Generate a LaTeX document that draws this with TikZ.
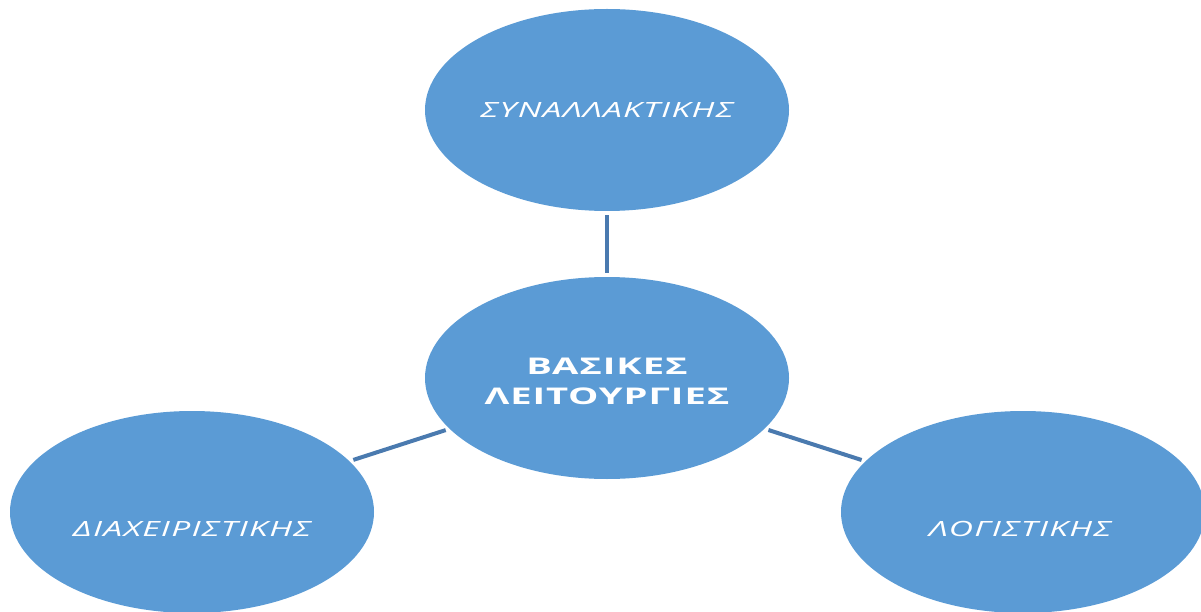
\documentclass[tikz,border=0pt]{standalone}
\usepackage{fontspec}
\setmainfont{Open Sans}
\usetikzlibrary{shapes.geometric}
\definecolor{ovalblue}{HTML}{5B9BD5}
\definecolor{linkblue}{HTML}{4A7AAF}
\tikzset{
  oval/.style={ellipse, fill=ovalblue, minimum width=364pt, minimum height=202pt, inner sep=0pt, text=white},
  side/.style={font=\fontsize{21}{25}\selectfont\itshape\addfontfeatures{FakeStretch=1.6,LetterSpace=6}},
  link/.style={draw=linkblue, line width=4pt, shorten <=4pt, shorten >=4pt}
}
\begin{document}
\begin{tikzpicture}[x=1pt,y=-1pt]
    \useasboundingbox (0,0) rectangle (1201,612);
    \node [oval] (vasikes) at (607,378) {};
    \node [oval, side] (synal) at (607,110) {ΣΥΝΑΛΛΑΚΤΙΚΗΣ};
    \node [oval, label={[side, text=white, yshift=-17pt]center:ΔΙΑΧΕΙΡΙΣΤΙΚΗΣ}] (diax) at (192,512) {};
    \node [oval, label={[side, text=white, yshift=-17pt, xshift=-3pt]center:ΛΟΓΙΣΤΙΚΗΣ}] (logist) at (1023,512) {};
      \node [text=white, align=center, font=\fontsize{23}{30}\selectfont\bfseries\addfontfeatures{FakeStretch=1.66,LetterSpace=4}] (vtext) at (607,381) {ΒΑΣΙΚΕΣ\\ΛΕΙΤΟΥΡΓΙΕΣ};
      \draw [link] (synal) to (vasikes);
      \draw [link] (vasikes) to (diax);
      \draw [link] (vasikes) to (logist);
  \end{tikzpicture}
\end{document}
